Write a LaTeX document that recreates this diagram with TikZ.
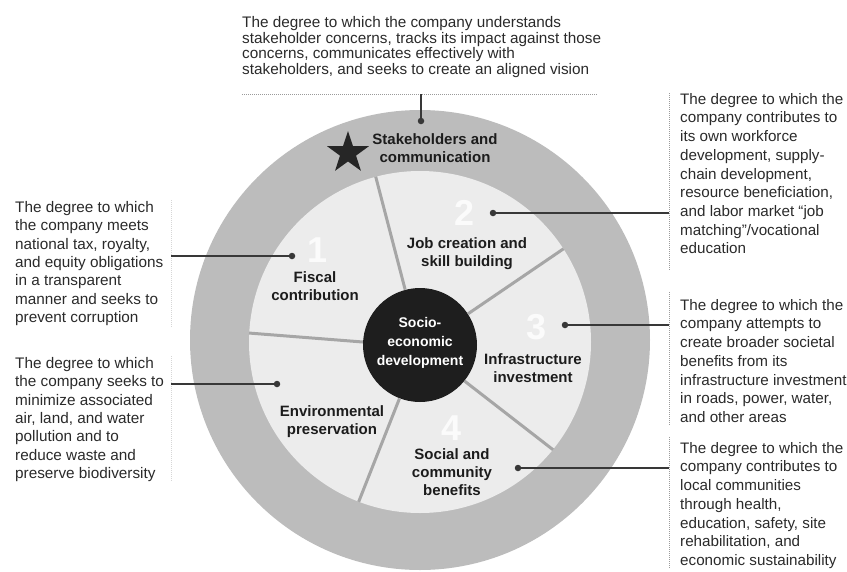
\documentclass[tikz,border=0pt]{standalone}
\usepackage{fontspec}
\setmainfont{Liberation Sans}
\usetikzlibrary{shapes.geometric,calc}
\definecolor{ringc}{HTML}{BCBCBC}
\definecolor{innerc}{HTML}{ECECEC}
\definecolor{corec}{HTML}{1E1E1E}
\definecolor{spokec}{HTML}{A6A6A6}
\definecolor{txtc}{HTML}{2A2A2A}
\definecolor{labc}{HTML}{1C1C1C}
\definecolor{linec}{HTML}{383838}
\definecolor{dotlc}{HTML}{9A9A9A}
\definecolor{faintc}{HTML}{D6D6D6}
\definecolor{numc}{HTML}{FBFBFB}
\definecolor{starc}{HTML}{262626}
\begin{document}
\begin{tikzpicture}[x=1pt,y=-1pt,
  desc/.style={anchor=north west, inner sep=0pt, align=left, text=txtc},
  lab/.style={align=center, inner sep=0pt, text=labc, font=\fontsize{15}{18}\selectfont\bfseries},
  num/.style={text=numc, inner sep=0pt, font=\fontsize{36}{36}\selectfont\bfseries},
  dotn/.style={circle, fill=linec, minimum size=6.5pt, inner sep=0pt},
  conn/.style={draw=linec, line width=1.3pt},
  guide/.style={draw=dotlc, line width=0.7pt, dash pattern=on 1pt off 1pt},
  faintguide/.style={draw=faintc, line width=0.7pt, dash pattern=on 1pt off 1pt},
  spoke/.style={draw=spokec, line width=3pt}]
\useasboundingbox (0,0) rectangle (847,571);

% wheel
\node[circle, fill=ringc, minimum size=460pt, inner sep=0pt] (ring) at (420,340) {};
\node[circle, fill=innerc, minimum size=342pt, inner sep=0pt] (inner) at (420,342) {};
\node[circle, fill=corec, minimum size=114pt, inner sep=0pt] (core) at (420,345) {};
\foreach \a in {177,105,33,321,249}
  \draw[spoke] (core.\a) -- (inner.\a);

% faint numerals
\node[num] (n1) at (318,250) {1};
\node[num] (n2) at (465,213) {2};
\node[num] (n3) at (537,327) {3};
\node[num] (n4) at (452,428) {4};

% labels
\node[align=center, inner sep=0pt, text=white, font=\fontsize{14}{18.7}\selectfont\bfseries] (coretxt) at (420,343) {Socio-\\economic\\development};
\node[lab] (lstake) at (435,148) {Stakeholders and\\communication};
\node[lab] (ljob) at (467,254) {Job creation and\\skill building};
\node[lab] (lfiscal) at (315,286) {Fiscal\\contribution};
\node[lab] (linfra) at (533,368) {Infrastructure\\investment};
\node[lab] (lenv) at (332,422) {Environmental\\preservation};
\node[lab] (lsocial) at (452,472) {Social and\\community\\benefits};
\node[star, star points=5, star point ratio=2.6, fill=starc, minimum size=44pt, inner sep=0pt] (star) at (348,153) {};

% descriptions
\node[desc, font=\fontsize{15.3}{15.8}\selectfont] (dtoptxt) at (242,16) {The degree to which the company understands\\stakeholder concerns, tracks its impact against those\\concerns, communicates effectively with\\stakeholders, and seeks to create an aligned vision};
\node[desc, font=\fontsize{15.3}{18.4}\selectfont] (dleft1) at (15,201) {The degree to which\\the company meets\\national tax, royalty,\\and equity obligations\\in a transparent\\manner and seeks to\\prevent corruption};
\node[desc, font=\fontsize{15.3}{18.4}\selectfont] (dleft2) at (15,357) {The degree to which\\the company seeks to\\minimize associated\\air, land, and water\\pollution and to\\reduce waste and\\preserve biodiversity};
\node[desc, font=\fontsize{15.2}{18.7}\selectfont] (dright1) at (680,93) {The degree to which the\\company contributes to\\its own workforce\\development, supply-\\chain development,\\resource beneficiation,\\and labor market “job\\matching”/vocational\\education};
\node[desc, font=\fontsize{15.2}{18.7}\selectfont] (dright2) at (680,299) {The degree to which the\\company attempts to\\create broader societal\\benefits from its\\infrastructure investment\\in roads, power, water,\\and other areas};
\node[desc, font=\fontsize{15.2}{18.7}\selectfont] (dright3) at (680,442) {The degree to which the\\company contributes to\\local communities\\through health,\\education, safety, site\\rehabilitation, and\\economic sustainability};

% guide lines
\coordinate (gt1) at (242,94);
\coordinate (gt2) at (598,94);
\coordinate (gr1a) at (669,93);
\coordinate (gr1b) at (669,270);
\coordinate (gr2a) at (669,292);
\coordinate (gr2b) at (669,425);
\coordinate (gr3a) at (669,437);
\coordinate (gr3b) at (669,569);
\coordinate (gl1a) at (171,200);
\coordinate (gl1b) at (171,328);
\coordinate (gl2a) at (171,356);
\coordinate (gl2b) at (171,482);
\draw[guide] (gt1) -- (gt2);
\draw[guide] (gr1a) -- (gr1b);
\draw[guide] (gr2a) -- (gr2b);
\draw[guide] (gr3a) -- (gr3b);
\draw[faintguide] (gl1a) -- (gl1b);
\draw[faintguide] (gl2a) -- (gl2b);

% dots and connectors
\node[dotn] (dtop) at (421,121) {};
\node[dotn] (d1) at (292,256) {};
\node[dotn] (d5) at (277,384) {};
\node[dotn] (d2) at (493,213) {};
\node[dotn] (d3) at (565,325) {};
\node[dotn] (d4) at (518,468) {};
\coordinate (etop) at (421,94);
\coordinate (e1) at (171,256);
\coordinate (e5) at (171,384);
\coordinate (e2) at (669,213);
\coordinate (e3) at (669,325);
\coordinate (e4) at (669,468);
\draw[conn] (etop) -- (dtop.center);
\draw[conn] (e1) -- (d1.center);
\draw[conn] (e5) -- (d5.center);
\draw[conn] (d2.center) -- (e2);
\draw[conn] (d3.center) -- (e3);
\draw[conn] (d4.center) -- (e4);
\end{tikzpicture}
\end{document}
